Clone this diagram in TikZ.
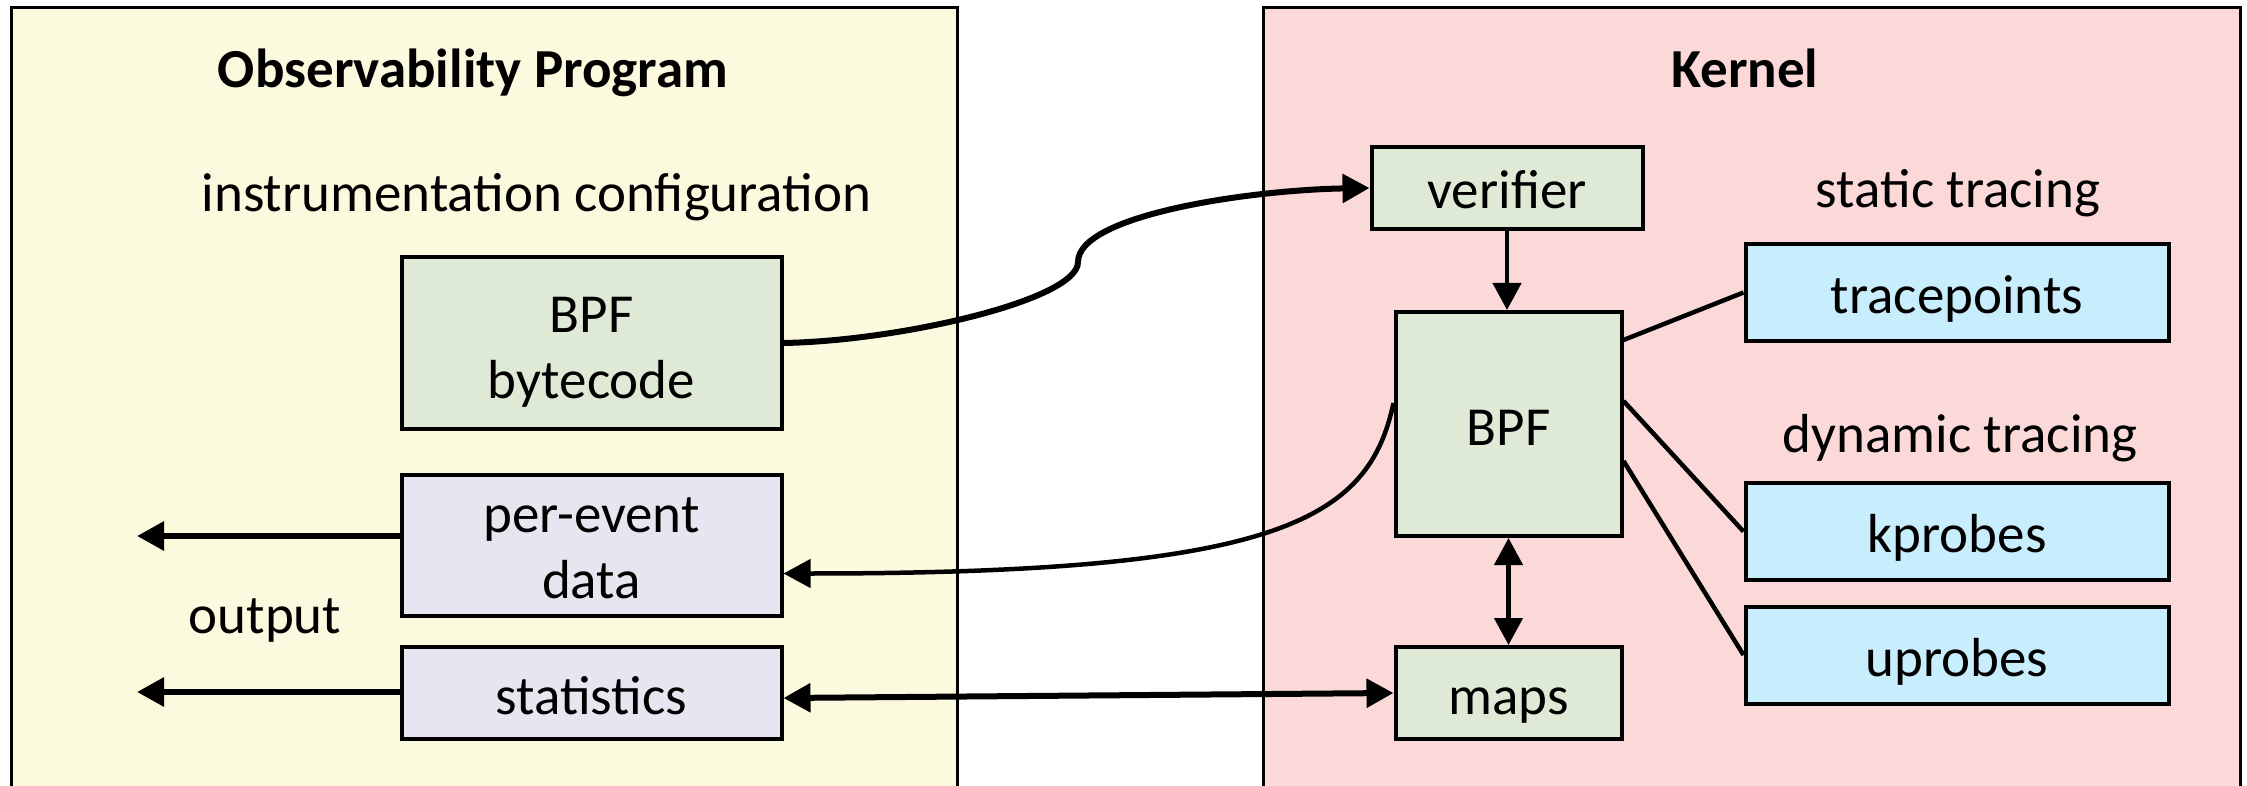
\documentclass[tikz,border=0pt]{standalone}
\usepackage{fontspec}
\setmainfont{Carlito}
\usetikzlibrary{arrows.meta,calc}
\definecolor{panelY}{RGB}{252,250,222}
\definecolor{panelR}{RGB}{252,217,217}
\definecolor{bgreen}{RGB}{223,234,214}
\definecolor{bpurple}{RGB}{232,228,240}
\definecolor{bblue}{RGB}{200,237,252}
\tikzset{
  panel/.style={draw, line width=3pt},
  box/.style={draw, line width=4pt, align=center, inner sep=0pt, font=\fontsize{55}{66}\selectfont},
  one/.style={text height=42pt, text depth=0pt},
  lbl/.style={inner sep=0pt, anchor=base, font=\fontsize{55}{66}\selectfont},
  ttl/.style={inner sep=0pt, anchor=base, font=\fontsize{55}{66}\selectfont\bfseries},
  conn/.style={line width=6pt},
  thin/.style={line width=4.5pt},
  tip/.tip={Triangle[length=27pt,width=28pt]}
}
\begin{document}
\begin{tikzpicture}[x=1pt,y=-1pt]
\useasboundingbox (0,0) rectangle (2247,786);
% panels
\draw[panel, fill=panelY] (11,8) rectangle (957,800);
\draw[panel, fill=panelR] (1263,8) rectangle (2240,800);
% titles and labels
\node[ttl] (t1) at (473,88) {Observability Program};
\node[ttl] (t2) at (1745,88) {Kernel};
\node[lbl] (instr) at (536.5,212) {instrumentation configuration};
\node[lbl] (static) at (1958,208) {static tracing};
\node[lbl] (dynamic) at (1960,452) {dynamic tracing};
\node[lbl] (output) at (265,633) {output};
% boxes
\node[box, fill=bgreen, minimum width=380, minimum height=172] (bytecode) at (591.5,343) {\rule{0pt}{54pt}BPF\\bytecode};
\node[box, fill=bpurple, minimum width=380, minimum height=141] (perevent) at (591.5,545.5) {\rule{0pt}{41pt}per-event\\data};
\node[box, one, fill=bpurple, minimum width=380, minimum height=92] (stats) at (591.5,693) {statistics};
\node[box, one, fill=bgreen, minimum width=271, minimum height=82] (verifier) at (1507,188) {verifier};
\node[box, one, fill=bgreen, minimum width=226, minimum height=224] (bpf) at (1508.5,424) {BPF};
\node[box, one, fill=bgreen, minimum width=226, minimum height=92] (maps) at (1508.5,693) {maps};
\node[box, one, fill=bblue, minimum width=423, minimum height=97] (tracepoints) at (1957,292.5) {tracepoints};
\node[box, one, fill=bblue, minimum width=423, minimum height=97] (kprobes) at (1957,531.5) {kprobes};
\node[box, one, fill=bblue, minimum width=423, minimum height=97] (uprobes) at (1957,655) {uprobes};
% free ends
\coordinate (out1) at (137,536);
\coordinate (out2) at (137,692);
\coordinate (mid) at (1078,262);
% connectors
\draw[conn, -tip] (perevent.west |- out1) -- (out1);
\draw[conn, -tip] (stats.west |- out2) -- (out2);
\draw[conn] (bytecode.east) .. controls +(116,-2) and +(0,38) .. (mid);
\draw[conn, -tip] (mid) .. controls +(0,-47) and +(-120,2) .. (verifier.west);
\draw[thin, -tip] ($(bpf.west)+(0,-21)$) .. controls +(-25,117) and +(496,0) .. ($(perevent.east)+(0,28)$);
\draw[conn, tip-tip] ($(stats.east)+(0,5)$) -- (maps.west);
\draw[thin, -tip] (verifier.south) -- (verifier.south |- bpf.north);
\draw[thin, tip-tip] (bpf.south) -- (maps.north);
\draw[thin] ($(bpf.north east)+(0,30)$) -- (tracepoints.west);
\draw[thin] ($(bpf.north east)+(0,91)$) -- (kprobes.west);
\draw[thin] ($(bpf.north east)+(0,151)$) -- (uprobes.west);
\end{tikzpicture}
\end{document}
